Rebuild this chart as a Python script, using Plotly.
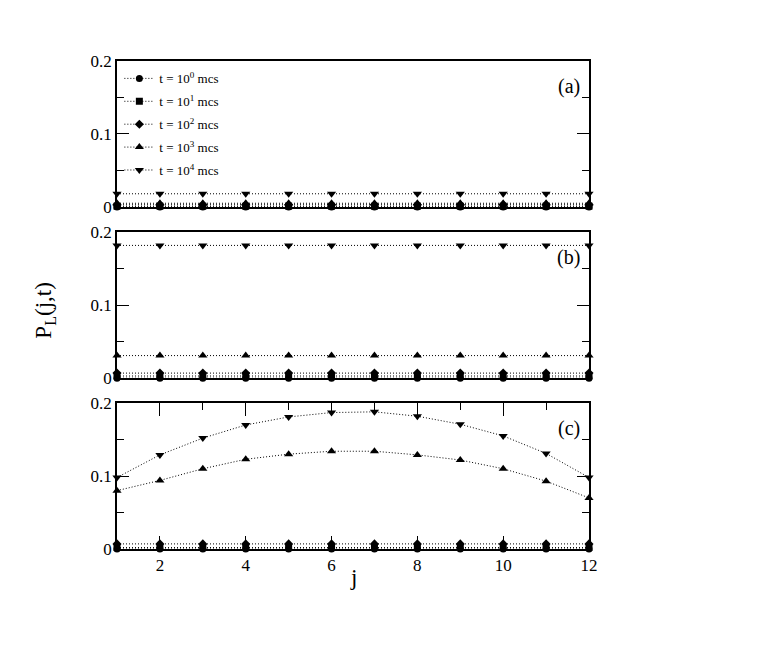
import plotly.graph_objects as go

j = list(range(1, 13))

# panel (a)
a_t0 = [0.0] * 12
a_t1 = [0.001] * 12
a_t2 = [0.003] * 12
a_t3 = [0.005] * 12
a_t4 = [0.018] * 12

# panel (b)
b_t0 = [0.0] * 12
b_t1 = [0.003] * 12
b_t2 = [0.007] * 12
b_t3 = [0.031] * 12
b_t4 = [0.182] * 12

# panel (c)
c_t0 = [0.0] * 12
c_t1 = [0.002] * 12
c_t2 = [0.007] * 12
c_t3 = [0.080, 0.094, 0.110, 0.123, 0.130, 0.134, 0.134, 0.129, 0.122, 0.110, 0.093, 0.070]
c_t4 = [0.098, 0.129, 0.152, 0.170, 0.181, 0.187, 0.188, 0.182, 0.171, 0.155, 0.131, 0.098]

series_names = ["t = 10<sup>0</sup> mcs", "t = 10<sup>1</sup> mcs", "t = 10<sup>2</sup> mcs",
                "t = 10<sup>3</sup> mcs", "t = 10<sup>4</sup> mcs"]
symbols = ["circle", "square", "diamond", "triangle-up", "triangle-down"]
panel_labels = ["(a)", "(b)", "(c)"]
y_ticks = [0, 0.1, 0.2]
y_ticktext = ["0", "0.1", "0.2"]
x_ticks = [2, 4, 6, 8, 10, 12]

panels = [
    [a_t0, a_t1, a_t2, a_t3, a_t4],
    [b_t0, b_t1, b_t2, b_t3, b_t4],
    [c_t0, c_t1, c_t2, c_t3, c_t4],
]

FONT = "Liberation Serif, DejaVu Serif, serif"

fig = go.Figure()
for p, data in enumerate(panels):
    ax = "" if p == 0 else str(p + 1)
    for s, vals in enumerate(data):
        fig.add_trace(go.Scatter(
            x=j, y=vals, mode="lines+markers",
            name=series_names[s],
            legendgroup="g%d" % s,
            showlegend=(p == 0),
            line=dict(color="black", width=1, dash="1px,2px"),
            marker=dict(symbol=symbols[s], color="black", size=7 if s < 3 else 8),
            cliponaxis=False,
            xaxis="x" + ax, yaxis="y" + ax,
        ))

domains = [[0.701, 1.0], [0.350, 0.649], [0.0, 0.299]]

layout = dict(
    width=763, height=654,
    paper_bgcolor="white", plot_bgcolor="white",
    margin=dict(l=109, r=182, t=53, b=113),
    font=dict(family=FONT, color="black", size=16),
    showlegend=True,
    legend=dict(x=0.005, y=0.995, xanchor="left", yanchor="top",
                bgcolor="rgba(0,0,0,0)", font=dict(family=FONT, size=13),
                tracegroupgap=3, itemwidth=30),
)

for p in range(3):
    ax = "" if p == 0 else str(p + 1)
    is_bottom = (p == 2)
    layout["xaxis" + ax] = dict(
        domain=[0, 1], range=[1, 12], anchor="y" + ax,
        showline=True, linecolor="black", linewidth=1.5,
        mirror="allticks" if is_bottom else True,
        showgrid=False, zeroline=False,
        ticks="inside" if is_bottom else "",
        ticklen=13, tickwidth=1, tickcolor="black",
        tickvals=x_ticks if is_bottom else [],
        showticklabels=is_bottom,
        tickfont=dict(family=FONT, size=17),
        minor=dict(dtick=1, tick0=1, ticks="inside" if is_bottom else "", ticklen=7,
                   tickwidth=1, tickcolor="black", showgrid=False),
    )
    layout["yaxis" + ax] = dict(
        domain=domains[p], range=[0, 0.2], anchor="x" + ax,
        showline=True, linecolor="black", linewidth=1.5, mirror="allticks",
        showgrid=False, zeroline=False,
        ticks="inside", ticklen=12, tickwidth=1, tickcolor="black",
        tickvals=y_ticks, ticktext=y_ticktext,
        tickfont=dict(family=FONT, size=17),
        minor=dict(dtick=0.05, tick0=0, ticks="inside", ticklen=7,
                   tickwidth=1, tickcolor="black", showgrid=False),
    )

fig.update_layout(**layout)

annotations = []
for p in range(3):
    annotations.append(dict(
        text=panel_labels[p], xref="paper", yref="paper",
        x=0.985, y=domains[p][1] - 0.025, xanchor="right", yanchor="top",
        showarrow=False, font=dict(family=FONT, size=20),
    ))
annotations.append(dict(
    text="P<sub>L</sub>(j,t)", xref="paper", yref="paper",
    x=-0.153, y=0.49, xanchor="center", yanchor="middle", textangle=-90,
    showarrow=False, font=dict(family=FONT, size=23),
))
annotations.append(dict(
    text="j", xref="paper", yref="paper",
    x=0.5, y=-0.059, xanchor="center", yanchor="middle",
    showarrow=False, font=dict(family=FONT, size=23),
))
fig.update_layout(annotations=annotations)

fig.write_html("out.html")
